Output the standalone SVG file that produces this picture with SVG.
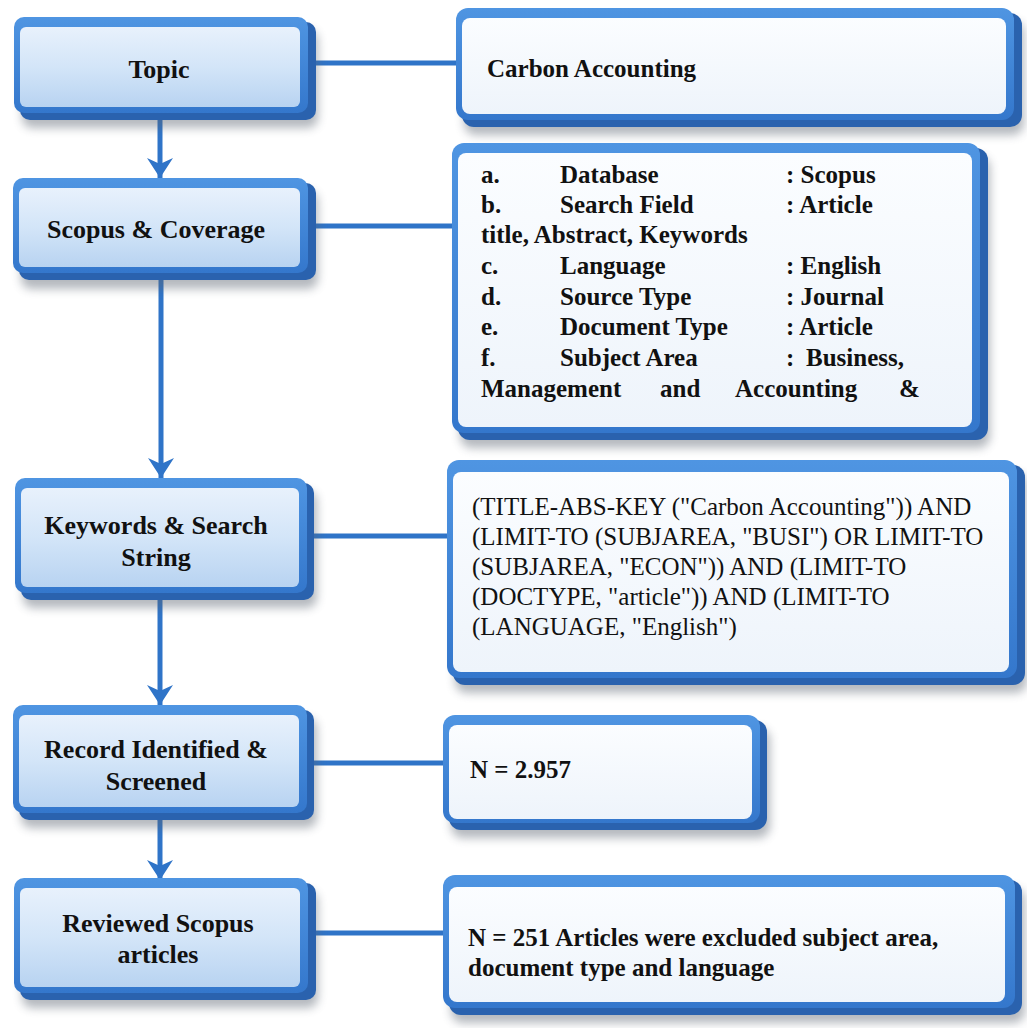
<svg xmlns="http://www.w3.org/2000/svg" width="1027" height="1028" viewBox="0 0 1027 1028">
<defs>
  <linearGradient id="gl" x1="0" y1="0" x2="0" y2="1">
    <stop offset="0" stop-color="#e8f1fc"/>
    <stop offset="0.5" stop-color="#d3e5f8"/>
    <stop offset="1" stop-color="#b8d3f1"/>
  </linearGradient>
  <linearGradient id="gr" x1="0" y1="0" x2="0" y2="1">
    <stop offset="0" stop-color="#fbfdff"/>
    <stop offset="1" stop-color="#eef4fb"/>
  </linearGradient>
  <linearGradient id="grim" x1="0" y1="0" x2="0" y2="1">
    <stop offset="0" stop-color="#4f95e2"/>
    <stop offset="1" stop-color="#3477cc"/>
  </linearGradient>
  <filter id="sh" x="-10%" y="-20%" width="120%" height="150%">
    <feGaussianBlur stdDeviation="5"/>
  </filter>
  <marker id="ah" markerWidth="22" markerHeight="28" refX="20" refY="14" orient="auto" markerUnits="userSpaceOnUse" viewBox="0 0 22 28">
    <path d="M0,1 L20,14 L0,27 L6,14 Z" fill="#2f74c8"/>
  </marker>
</defs>
<style>
  .shadow{fill:#5a6470;opacity:0.45;filter:url(#sh)}
  .depth{fill:#2a62ae}
  .rim{fill:url(#grim)}
  .facel{fill:url(#gl)}
  .facer{fill:url(#gr)}
  .lbl{font-family:"Liberation Serif","Times New Roman",serif;font-weight:bold;font-size:26px;fill:#111;text-anchor:middle}
  .tb{font-family:"Liberation Serif","Times New Roman",serif;font-weight:bold;font-size:25px;fill:#111}
  .tr{font-family:"Liberation Serif","Times New Roman",serif;font-size:25px;fill:#111}
  .conn{stroke:#2f74c8;stroke-width:5;fill:none}
</style>
<rect width="1027" height="1028" fill="#ffffff"/>

<g id="connectors">
  <line class="conn" x1="308" y1="63" x2="460" y2="63"/>
  <line class="conn" x1="308" y1="226" x2="456" y2="226"/>
  <line class="conn" x1="307" y1="536" x2="451" y2="536"/>
  <line class="conn" x1="307" y1="763" x2="447" y2="763"/>
  <line class="conn" x1="308" y1="933" x2="447" y2="933"/>
  <line class="conn" x1="160" y1="120" x2="160" y2="178" marker-end="url(#ah)"/>
  <line class="conn" x1="161" y1="280" x2="161" y2="478" marker-end="url(#ah)"/>
  <line class="conn" x1="160" y1="600" x2="160" y2="705" marker-end="url(#ah)"/>
  <line class="conn" x1="160" y1="820" x2="160" y2="880" marker-end="url(#ah)"/>
</g>

<g id="n-topic">
  <rect class="shadow" x="22" y="30" width="296" height="98" rx="10"/>
  <rect class="depth" x="20" y="22" width="296" height="98" rx="10"/>
  <rect class="rim" x="14" y="17" width="294" height="96" rx="10"/>
  <rect class="facel" x="20" y="27" width="280" height="80" rx="6"/>
  <text class="lbl" x="159" y="78">Topic</text>
</g>
<g id="n-scopus">
  <rect class="shadow" x="21" y="191" width="297" height="98" rx="10"/>
  <rect class="depth" x="19" y="183" width="297" height="97" rx="10"/>
  <rect class="rim" x="13" y="178" width="295" height="95" rx="10"/>
  <rect class="facel" x="19" y="188" width="281" height="79" rx="6"/>
  <text class="lbl" x="156" y="238">Scopus &amp; Coverage</text>
</g>
<g id="n-keywords">
  <rect class="shadow" x="23" y="491" width="294" height="117" rx="10"/>
  <rect class="depth" x="21" y="483" width="293" height="117" rx="10"/>
  <rect class="rim" x="15" y="478" width="292" height="115" rx="10"/>
  <rect class="facel" x="21" y="488" width="278" height="99" rx="6"/>
  <text class="lbl" x="156" y="534">Keywords &amp; Search</text>
  <text class="lbl" x="156" y="566">String</text>
</g>
<g id="n-record">
  <rect class="shadow" x="21" y="718" width="296" height="110" rx="10"/>
  <rect class="depth" x="19" y="710" width="295" height="110" rx="10"/>
  <rect class="rim" x="13" y="705" width="294" height="108" rx="10"/>
  <rect class="facel" x="19" y="715" width="280" height="92" rx="6"/>
  <text class="lbl" x="156" y="758">Record Identified &amp;</text>
  <text class="lbl" x="156" y="790">Screened</text>
</g>
<g id="n-reviewed">
  <rect class="shadow" x="22" y="891" width="296" height="117" rx="10"/>
  <rect class="depth" x="20" y="883" width="296" height="117" rx="10"/>
  <rect class="rim" x="14" y="878" width="294" height="115" rx="10"/>
  <rect class="facel" x="20" y="888" width="280" height="99" rx="6"/>
  <text class="lbl" x="158" y="932">Reviewed Scopus</text>
  <text class="lbl" x="158" y="963">articles</text>
</g>

<g id="n-carbon">
  <rect class="shadow" x="464" y="21" width="560" height="114" rx="12"/>
  <rect class="depth" x="462" y="13" width="560" height="114" rx="12"/>
  <rect class="rim" x="456" y="8" width="558" height="112" rx="12"/>
  <rect class="facer" x="462" y="18" width="544" height="96" rx="8"/>
  <text class="tb" x="487" y="77">Carbon Accounting</text>
</g>
<g id="n-criteria">
  <rect class="shadow" x="460" y="156" width="530" height="292" rx="12"/>
  <rect class="depth" x="458" y="148" width="530" height="292" rx="12"/>
  <rect class="rim" x="452" y="143" width="528" height="290" rx="12"/>
  <rect class="facer" x="458" y="153" width="514" height="274" rx="8"/>
  <text class="tb" x="481" y="183">a.</text><text class="tb" x="560" y="183">Database</text><text class="tb" x="786" y="183">: Scopus</text>
  <text class="tb" x="481" y="213">b.</text><text class="tb" x="560" y="213">Search Field</text><text class="tb" x="786" y="213">: Article</text>
  <text class="tb" x="481" y="243">title, Abstract, Keywords</text>
  <text class="tb" x="481" y="274">c.</text><text class="tb" x="560" y="274">Language</text><text class="tb" x="786" y="274">: English</text>
  <text class="tb" x="481" y="305">d.</text><text class="tb" x="560" y="305">Source Type</text><text class="tb" x="786" y="305">: Journal</text>
  <text class="tb" x="481" y="335">e.</text><text class="tb" x="560" y="335">Document Type</text><text class="tb" x="786" y="335">: Article</text>
  <text class="tb" x="481" y="366">f.</text><text class="tb" x="560" y="366">Subject Area</text><text class="tb" x="786" y="366">:</text><text class="tb" x="806" y="366">Business,</text>
  <text class="tb" x="481" y="397">Management</text><text class="tb" x="660" y="397">and</text><text class="tb" x="735" y="397">Accounting</text><text class="tb" x="899" y="397">&amp;</text>
</g>
<g id="n-search">
  <rect class="shadow" x="455" y="473" width="572" height="220" rx="12"/>
  <rect class="depth" x="453" y="465" width="572" height="220" rx="12"/>
  <rect class="rim" x="447" y="460" width="570" height="218" rx="12"/>
  <rect class="facer" x="453" y="472" width="556" height="200" rx="8"/>
  <text class="tr" x="472" y="515">(TITLE-ABS-KEY ("Carbon Accounting")) AND</text>
  <text class="tr" x="472" y="545">(LIMIT-TO (SUBJAREA, "BUSI") OR LIMIT-TO</text>
  <text class="tr" x="472" y="575">(SUBJAREA, "ECON")) AND (LIMIT-TO</text>
  <text class="tr" x="472" y="605">(DOCTYPE, "article")) AND (LIMIT-TO</text>
  <text class="tr" x="472" y="635">(LANGUAGE, "English")</text>
</g>
<g id="n-n2957">
  <rect class="shadow" x="451" y="728" width="319" height="110" rx="12"/>
  <rect class="depth" x="449" y="720" width="318" height="110" rx="12"/>
  <rect class="rim" x="443" y="715" width="317" height="108" rx="12"/>
  <rect class="facer" x="449" y="725" width="303" height="94" rx="8"/>
  <text class="tb" x="470" y="778">N = 2.957</text>
</g>
<g id="n-n251">
  <rect class="shadow" x="451" y="888" width="574" height="135" rx="12"/>
  <rect class="depth" x="449" y="880" width="573" height="135" rx="12"/>
  <rect class="rim" x="443" y="875" width="572" height="133" rx="12"/>
  <rect class="facer" x="449" y="887" width="556" height="115" rx="8"/>
  <text class="tb" x="468" y="946">N = 251 Articles were excluded subject area,</text>
  <text class="tb" x="468" y="976">document type and language</text>
</g>
</svg>
